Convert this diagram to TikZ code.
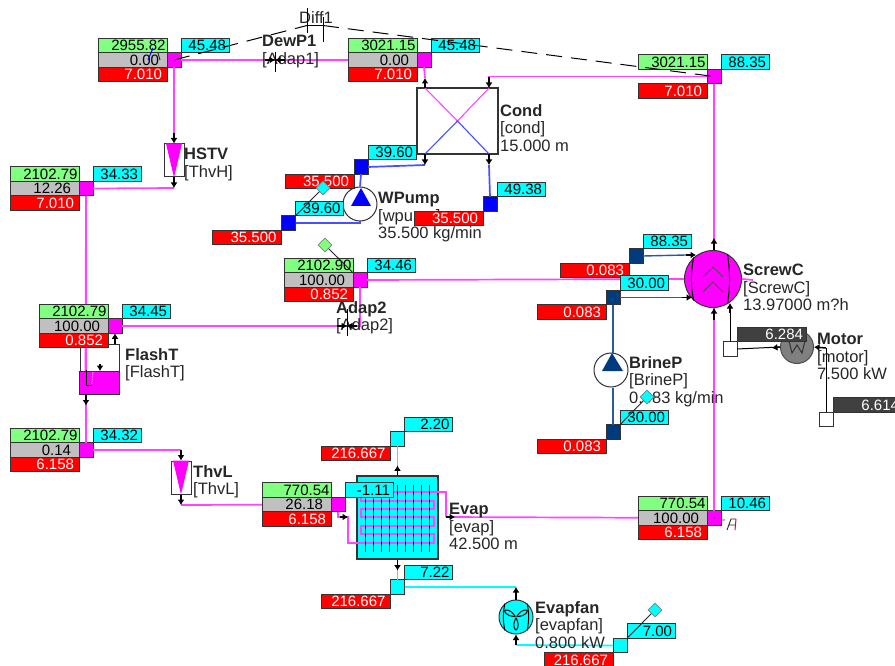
\documentclass[tikz,border=0pt]{standalone}
\usepackage{fontspec}
\setmainfont{Liberation Sans}
\usetikzlibrary{arrows.meta,positioning,shapes.geometric}
\definecolor{mag}{RGB}{255,0,255}
\definecolor{cyn}{RGB}{0,255,255}
\definecolor{grn}{RGB}{128,255,128}
\definecolor{gry}{RGB}{192,192,192}
\definecolor{rd}{RGB}{255,0,0}
\definecolor{blu}{RGB}{0,0,255}
\definecolor{nav}{RGB}{0,60,125}
\definecolor{pipem}{RGB}{255,70,255}
\definecolor{pipeb}{RGB}{70,80,255}
\definecolor{pipen}{RGB}{40,90,160}
\newcommand{\streamrows}[5]{%
\node[grycell,left=0pt of #1] (#1p) {#3};
\node[grncell,above=0pt of #1p] (#1h) {#2};
\node[redcell,below=0pt of #1p] (#1m) {#4};
\node[cyncell,above right=0pt of #1.north east] (#1t) {#5};}
\newcommand{\flowrows}[3]{%
\node[cyncell,above right=0pt of #1.north east] (#1t) {#2};
\node[redcell,below left=0pt of #1.south west] (#1m) {#3};}
\begin{document}
\begin{tikzpicture}[x=1pt,y=-1pt,
cell/.style={draw=black!80,line width=1pt,outer sep=0pt,inner ysep=0pt,minimum height=14.4pt,text height=10.6pt,text depth=0pt,align=right,font=\fontsize{15}{15}\selectfont},
grncell/.style={cell,fill=grn,inner xsep=1.5pt,text width=66pt},
grycell/.style={cell,fill=gry,inner xsep=8pt,text width=53pt},
redcell/.style={cell,fill=rd,text=white,inner xsep=5pt,text width=59pt},
cyncell/.style={cell,fill=cyn,inner xsep=3pt,text width=42pt},
drkcell/.style={cell,fill=black!75,text=white,inner xsep=3pt,text width=63pt},
junc/.style={draw=black!80,line width=1pt,outer sep=0pt,inner sep=0pt,minimum width=14pt,minimum height=14.5pt},
jmag/.style={junc,fill=mag},
jblu/.style={junc,fill=blu},
jnav/.style={junc,fill=nav},
jcyn/.style={junc,fill=cyn},
jwht/.style={junc,fill=white},
pmag/.style={draw=pipem,line width=1.7pt},
pblu/.style={draw=pipeb,line width=1.7pt},
pnav/.style={draw=pipen,line width=1.4pt},
pcyn/.style={draw=cyn,line width=1.7pt},
port/.style={-{Latex[length=5.5pt,width=7pt]},line width=1.5pt,black},
wire/.style={draw=black,line width=1pt},
tap/.style={draw=black!85,line width=.9pt},
valve/.style={draw=black!80,line width=1pt,fill=white,minimum width=20pt,minimum height=33pt,inner sep=0pt},
pump/.style={circle,draw=black!80,line width=1pt,fill=white,minimum size=34pt,inner sep=0pt},
sens/.style={diamond,draw=black!50,line width=.7pt,minimum size=14pt,inner sep=0pt,aspect=1},
lab/.style={font=\fontsize{16.5}{17.5}\selectfont,align=left,inner sep=0pt,anchor=north west,text=black!85}]
\useasboundingbox (0,0) rectangle (895,666);
\node[valve] (HSTV) at (174,160.5) {};
\node[valve] (ThvL) at (181,477.5) {};
\node[draw=black!80,line width=1pt,fill=white,minimum width=39pt,minimum height=50pt,inner sep=0pt] (FlashT) at (99.5,369) {};
\node[draw=black!80,line width=1.2pt,fill=white,minimum width=81pt,minimum height=66pt,inner sep=0pt] (Cond) at (457.5,121) {};
\node[draw=black!80,line width=1.2pt,fill=cyn,minimum width=81pt,minimum height=83pt,inner sep=0pt] (Evap) at (397.5,517.5) {};
\node[pump] (WPump) at (360,204) {};
\node[pump] (BrineP) at (611,370) {};
\node[pump,fill=cyn] (Evapfan) at (516,617) {};
\node[circle,draw=black!80,line width=1pt,fill=mag,minimum size=57pt,inner sep=0pt] (ScrewC) at (713,279) {};
\node[circle,draw=black!70,line width=1pt,fill=black!50,minimum size=33pt,inner sep=0pt] (Motor) at (797,347) {};
\node[jmag] (S1) at (174,60) {};
\node[jmag] (S2) at (424,60) {};
\node[jmag] (S3) at (86,188.5) {};
\node[jmag] (S4) at (115,326) {};
\node[jmag] (S5) at (360,280) {};
\node[jmag] (S6) at (86,450) {};
\node[jmag] (S7) at (338,504.5) {};
\node[jmag] (S8) at (714,518) {};
\node[jmag] (S9) at (714,76.5) {};
\node[jblu] (W1) at (361,167) {};
\node[jblu] (W2) at (288.5,223) {};
\node[jblu] (W3) at (490,204) {};
\node[jnav] (B1) at (636,256) {};
\node[jnav] (B2) at (613,297.5) {};
\node[jnav] (B3) at (613,432) {};
\node[jcyn] (A1) at (397.5,439) {};
\node[jcyn] (A2) at (397.5,587) {};
\node[jcyn] (A3) at (620,645.5) {};
\node[jwht] (P1) at (730,349) {};
\node[jwht] (P2) at (826,419.5) {};
\coordinate (hstvIn) at (174,133);
\coordinate (hstvOut) at (174,188);
\coordinate (thvlIn) at (181,450);
\coordinate (thvlOut) at (181,505);
\coordinate (condA) at (425,88);
\coordinate (condB) at (489,88);
\coordinate (condC) at (425,154);
\coordinate (condD) at (489,154);
\coordinate (condAp) at (425,78);
\coordinate (condBp) at (489,77);
\coordinate (condCp) at (425,165);
\coordinate (condDp) at (489,165);
\coordinate (evapIn) at (348,517);
\coordinate (evapTap) at (340,517);
\coordinate (evapOut) at (455,517);
\coordinate (evapEnd) at (446,517);
\coordinate (fanIn) at (516,587);
\coordinate (fanOut) at (516,645);
\coordinate (screwA) at (696,255);
\coordinate (screwAp) at (686,255);
\coordinate (screwB) at (692,297.5);
\coordinate (screwBp) at (682,297.5);
\coordinate (screwT) at (714,238);
\coordinate (screwU) at (714,308);
\coordinate (screwV) at (714,320);
\coordinate (screwOut) at (753,280);
\coordinate (shaftIn) at (730,303);
\coordinate (shaftP) at (730,313);
\coordinate (motorP) at (826,348);
\coordinate (motorT) at (772,348);
\coordinate (adapA) at (275,60);
\coordinate (adapAl) at (265,60);
\coordinate (adapAr) at (285,60);
\coordinate (adapB) at (347,326);
\coordinate (adapBl) at (337,326);
\coordinate (adapBr) at (357,326);
\coordinate (diffL) at (307,25.5);
\coordinate (diffR) at (323,25.5);
\draw[pmag] (S1.east)--(S2.west);
\draw[pmag] (S1.south)--(hstvIn);
\draw[pmag] (hstvOut)--(S3.east);
\draw[pmag] (S3.south)--(S6.north);
\draw[pmag] (S4.east)-|(S5.south);
\draw[pmag] (S5.east)--(ScrewC.west);
\draw[pmag] (S6.east)-|(thvlIn);
\draw[pmag] (thvlOut)--(S7.west);
\draw[pmag] (S2.south)--(condAp);
\draw[pmag] (S9.west)-|(condBp);
\draw[pmag] (S9.south)--(S9.south|-ScrewC.north);
\draw[pmag] (S8.north)--(S8.north|-ScrewC.south);
\draw[pmag] (ScrewC.east)--(screwOut);
\fill[mag] (FlashT.south west) rectangle (119,371);
\draw[draw=black!80,line width=1pt] (FlashT.south west) rectangle (119,371);
\draw[pmag] (S3.south)--(85.5,371);
\draw[wire] (86,370)--(86,385)--(92,385);
\draw[white,densely dotted,line width=.8pt] (93,372)--(92,384);
\draw[port] (100,364)--(100,371);
\fill[mag] (HSTV.north) ++(-8,0) -- ++(16,0) -- (HSTV.south) -- cycle;
\fill[mag] (ThvL.north) ++(-8,0) -- ++(16,0) -- (ThvL.south) -- cycle;
\draw[pmag,line width=1.1pt] (condA)--(Cond.center)--(condB);
\draw[pblu,line width=1.1pt] (condC)--(Cond.center)--(condD);
\draw[pblu] (W1.east)--(condCp);
\draw[pblu] (W3.north)--(condDp);
\draw[pblu] (W1.south)--(WPump.north);
\draw[pblu] (W2.east)-|(WPump.south);
\fill[blu] (361,188)--(371,206)--(351,206)--cycle;
\draw[pnav] (B1.east)--(screwAp);
\draw[pnav] (B2.east)--(screwBp);
\draw[pnav] (B2.south)--(BrineP.north-|B2);
\draw[pnav] (B3.north)--(BrineP.south-|B3);
\fill[nav] (612,353)--(623,371)--(602,371)--cycle;
\draw[pcyn] (A1.south)--(A1.south|-Evap.north);
\draw[pcyn] (A2.north)--(A2.north|-Evap.south);
\draw[pcyn] (A2.east)--(fanIn);
\draw[pcyn] (fanOut)--(A3.west);
\draw[pmag,line width=1.2pt] (S7.south)|-(evapIn)--(348,543)--(434,543)--(434,534)--(361,534)--(361,526)--(434,526)--(434,517)--(361,517)--(361,509)--(434,509)--(434,501)--(361,501)--(361,492)--(446,492)--(evapEnd);
\draw[pmag] (evapEnd)--(S8.west);
\draw[black!85,line width=.9pt] (365,485)--(365,552) (373,485)--(373,552) (381,485)--(381,552) (389,485)--(389,552) (397,485)--(397,552) (405,485)--(405,552) (413,485)--(413,552) (421,485)--(421,552) (429,485)--(429,552);
\draw[black,line width=1pt] (ScrewC.132) to[bend right=10] (ScrewC.228);
\draw[black,line width=1pt] (ScrewC.60) to[bend left=8] (ScrewC.-60);
\draw[black!70,line width=.8pt] (703,277)--(713,267)--(723,277) (703,292)--(713,282)--(723,292);
\draw[black!80,line width=1pt] (789,341)--(792,353)--(797,345)--(802,353)--(805,341);
\draw[black,line width=1pt,rounded corners=2pt] (Evapfan.center)--+(72:9)--+(90:14)--+(108:9)--cycle (Evapfan.center)--+(192:9)--+(210:14)--+(228:9)--cycle (Evapfan.center)--+(312:9)--+(330:14)--+(348:9)--cycle;
\draw[black,line width=1pt] (Evapfan.130) to[bend right=10] (Evapfan.230) (Evapfan.50) to[bend left=10] (Evapfan.-50);
\draw[wire] (P1.north)--(shaftP);
\draw[wire] (P1.east)--(Motor.west);
\draw[wire] (P2.north)--(motorP);
\node[lab] (DewP1) at (262,35) {\textbf{DewP1}\\{[}Adap1]};
\node[lab] (Diff1) at (299,11) {Diff1};
\node[lab] (HSTVl) at (184,148) {\textbf{HSTV}\\{[}ThvH]};
\node[lab] (Condl) at (500,104) {\textbf{Cond}\\{[}cond]\\15.000 m};
\node[lab] (WPumpl) at (378,192) {\textbf{WPump}\\{[}wpump]\\35.500 kg/min};
\node[lab] (Adap2l) at (336,301) {\textbf{Adap2}\\{[}Adap2]};
\node[lab] (FlashTl) at (125,348) {\textbf{FlashT}\\{[}FlashT]};
\node[lab] (ThvLl) at (193,465) {\textbf{ThvL}\\{[}ThvL]};
\node[lab] (Evapl) at (449,503) {\textbf{Evap}\\{[}evap]\\42.500 m};
\node[lab] (Evapfanl) at (535,601) {\textbf{Evapfan}\\{[}evapfan]\\0.800 kW};
\node[lab] (BrinePl) at (629,356) {\textbf{BrineP}\\{[}BrineP]\\0.083 kg/min};
\node[lab] (ScrewCl) at (743,264) {\textbf{ScrewC}\\{[}ScrewC]\\13.97000 m?h};
\node[lab] (Motorl) at (817,333) {\textbf{Motor}\\{[}motor]\\7.500 kW};
\streamrows{S1}{2955.82}{0.00}{7.010}{45.48}
\streamrows{S2}{3021.15}{0.00}{7.010}{45.48}
\streamrows{S3}{2102.79}{12.26}{7.010}{34.33}
\streamrows{S4}{2102.79}{100.00}{0.852}{34.45}
\streamrows{S5}{2102.90}{100.00}{0.852}{34.46}
\streamrows{S6}{2102.79}{0.14}{6.158}{34.32}
\streamrows{S7}{770.54}{26.18}{6.158}{-1.11}
\streamrows{S8}{770.54}{100.00}{6.158}{10.46}
\flowrows{S9}{88.35}{7.010}
\node[grncell,above left=0pt of S9.north west] (S9h) {3021.15};
\flowrows{W1}{39.60}{35.500}
\flowrows{W2}{39.60}{35.500}
\flowrows{W3}{49.38}{35.500}
\flowrows{B1}{88.35}{0.083}
\flowrows{B2}{30.00}{0.083}
\flowrows{B3}{30.00}{0.083}
\flowrows{A1}{2.20}{216.667}
\flowrows{A2}{7.22}{216.667}
\flowrows{A3}{7.00}{216.667}
\node[drkcell,above right=0pt of P1.north east] (P1w) {6.284};
\node[drkcell,above right=0pt of P2.north east] (P2w) {6.614};
\draw[port] (hstvIn)--(HSTV.north);
\draw[port] (HSTV.south)--(hstvOut);
\draw[port] (thvlIn)--(ThvL.north);
\draw[port] (ThvL.south)--(thvlOut);
\draw[port] (S4.south|-FlashT.north)--(S4.south);
\draw[port] (FlashT.south-|S3)--++(0,11);
\draw[port] (condA)--(condAp);
\draw[port] (condBp)--(condB);
\draw[port] (condC)--(condCp);
\draw[port] (condD)--(condDp);
\draw[port] (evapTap)--(evapIn);
\draw[port] (evapEnd)--(evapOut);
\draw[port] (A1.south|-Evap.north)--++(0,-10);
\draw[port] (A2.north|-Evap.south)--++(0,11);
\draw[port] (Evapfan.north)--(fanIn);
\draw[port] (fanOut)--(Evapfan.south);
\draw[port] (screwAp)--(screwA);
\draw[port] (screwBp)--(screwB);
\draw[port] (S9.south|-ScrewC.north)--(screwT);
\draw[port] (screwV)--(screwU);
\draw[port] (shaftP)--(shaftIn);
\draw[port] (Motor.west)--(motorT);
\draw[port] (motorP)--(Motor.east);
\draw[port] (adapAl)--(adapA);
\draw[port] (adapAr)--(adapA);
\draw[port] (adapBl)--(adapB);
\draw[port] (adapBr)--(adapB);
\draw[wire] (275,52)--(275,72) (347,309)--(347,336);
\draw[wire] (307,8)--(diffL)--(diffR)--(323,42) (307,25.5)--(307,33) (323,17)--(323,25.5);
\draw[wire,dash pattern=on 16pt off 9pt] (S1.center)--(diffL);
\draw[wire,dash pattern=on 16pt off 9pt] (diffR)--(S9.center);
\draw[draw=blu,line width=1pt] (148,60)--(153,48);
\draw[tap] (158,53)--(160,60);
\node[sens,fill=cyn] (dW) at (323,188) {};
\node[sens,fill=grn] (dS) at (325,245) {};
\node[sens,fill=cyn] (dB) at (647,397) {};
\node[sens,fill=cyn] (dA) at (655,610) {};
\draw[tap] (dW)--(W2.north east);
\draw[tap] (dS)--(S5.north west);
\draw[tap] (dB)--(B3.north east);
\draw[tap] (dA)--(A3.north east);
\fill[black] (S8.center) circle (.6pt);
\draw[tap] (721,520)--(725,520) (727,530)--(731,519)--(736,519) (729,525)--(735,525);
\draw[draw=rd,line width=1pt] (736,519)--(735,530);
\end{tikzpicture}
\end{document}
